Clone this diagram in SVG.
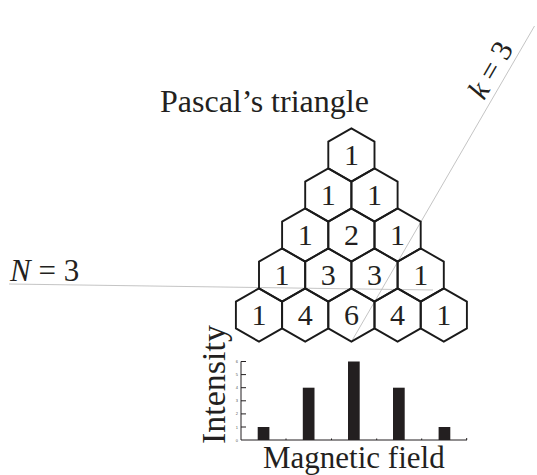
<svg xmlns="http://www.w3.org/2000/svg" xmlns:xlink="http://www.w3.org/1999/xlink" width="537" height="475" viewBox="0 0 537 475">
<style>
.hex{fill:none;stroke:#1a1a1a;stroke-width:1.9;stroke-linejoin:miter}
.num{font-family:"Liberation Serif","Times New Roman",serif;font-size:30px;fill:#231f20;text-anchor:middle}
.lbl{font-family:"Liberation Serif","Times New Roman",serif;fill:#231f20}
.guide{stroke:#bdbdbd;stroke-width:0.9;fill:none}
.bar{fill:#231f20}
.axis{stroke:#231f20;stroke-width:1;fill:none}
.tick{font-family:"Liberation Sans",Arial,sans-serif;font-size:4px;fill:#555;text-anchor:end}
</style>
<defs>
<polygon id="hex" points="0,-26.67 23.1,-13.33 23.1,13.33 0,26.67 -23.1,13.33 -23.1,-13.33"/>
</defs>
<rect width="537" height="475" fill="#fff"/>
<text class="lbl" x="160" y="112" font-size="32">Pascal’s triangle</text>
<g id="connectors">
<line class="guide" x1="9" y1="284" x2="433" y2="290"/>
<line class="guide" x1="351.4" y1="341.7" x2="534.5" y2="26"/>
</g>
<text class="lbl" x="10" y="281" font-size="31"><tspan font-style="italic">N</tspan> = 3</text>
<text class="lbl" font-size="30" transform="translate(484,101) rotate(-60)"><tspan font-style="italic">k</tspan> = 3</text>
<g id="r0n0" transform="translate(351.4,155)"><use xlink:href="#hex" class="hex"/><text class="num" y="10">1</text></g>
<g id="r1n0" transform="translate(328.3,195)"><use xlink:href="#hex" class="hex"/><text class="num" y="10">1</text></g>
<g id="r1n1" transform="translate(374.5,195)"><use xlink:href="#hex" class="hex"/><text class="num" y="10">1</text></g>
<g id="r2n0" transform="translate(305.2,235)"><use xlink:href="#hex" class="hex"/><text class="num" y="10">1</text></g>
<g id="r2n1" transform="translate(351.4,235)"><use xlink:href="#hex" class="hex"/><text class="num" y="10">2</text></g>
<g id="r2n2" transform="translate(397.6,235)"><use xlink:href="#hex" class="hex"/><text class="num" y="10">1</text></g>
<g id="r3n0" transform="translate(282.1,275)"><use xlink:href="#hex" class="hex"/><text class="num" y="10">1</text></g>
<g id="r3n1" transform="translate(328.3,275)"><use xlink:href="#hex" class="hex"/><text class="num" y="10">3</text></g>
<g id="r3n2" transform="translate(374.5,275)"><use xlink:href="#hex" class="hex"/><text class="num" y="10">3</text></g>
<g id="r3n3" transform="translate(420.7,275)"><use xlink:href="#hex" class="hex"/><text class="num" y="10">1</text></g>
<g id="r4n0" transform="translate(259,315)"><use xlink:href="#hex" class="hex"/><text class="num" y="10">1</text></g>
<g id="r4n1" transform="translate(305.2,315)"><use xlink:href="#hex" class="hex"/><text class="num" y="10">4</text></g>
<g id="r4n2" transform="translate(351.4,315)"><use xlink:href="#hex" class="hex"/><text class="num" y="10">6</text></g>
<g id="r4n3" transform="translate(397.6,315)"><use xlink:href="#hex" class="hex"/><text class="num" y="10">4</text></g>
<g id="r4n4" transform="translate(443.8,315)"><use xlink:href="#hex" class="hex"/><text class="num" y="10">1</text></g>
<g id="chart">
<path class="axis" d="M241,361.5V440H467M241,361.5h5M241,374.6h5M241,387.7h5M241,400.8h5M241,413.9h5M241,427h5M286,440v-1.5M331.5,440v-1.5M376.7,440v-1.5M421.7,440v-1.5M466.7,440v-2"/>
<text class="tick" x="238" y="441.5">0</text>
<text class="tick" x="238" y="428.5">1</text>
<text class="tick" x="238" y="415.4">2</text>
<text class="tick" x="238" y="402.3">3</text>
<text class="tick" x="238" y="389.2">4</text>
<text class="tick" x="238" y="376.1">5</text>
<text class="tick" x="238" y="363">6</text>
<rect class="bar" x="257.7" y="427" width="11.7" height="13"/>
<rect class="bar" x="302.8" y="387.7" width="11.7" height="52.3"/>
<rect class="bar" x="348" y="361.5" width="11.7" height="78.5"/>
<rect class="bar" x="393" y="387.7" width="11.7" height="52.3"/>
<rect class="bar" x="438.6" y="427" width="11.7" height="13"/>
<text class="lbl" font-size="34" transform="translate(225,444) rotate(-90)">Intensity</text>
<text class="lbl" x="263" y="468" font-size="31">Magnetic field</text>
</g>
</svg>
